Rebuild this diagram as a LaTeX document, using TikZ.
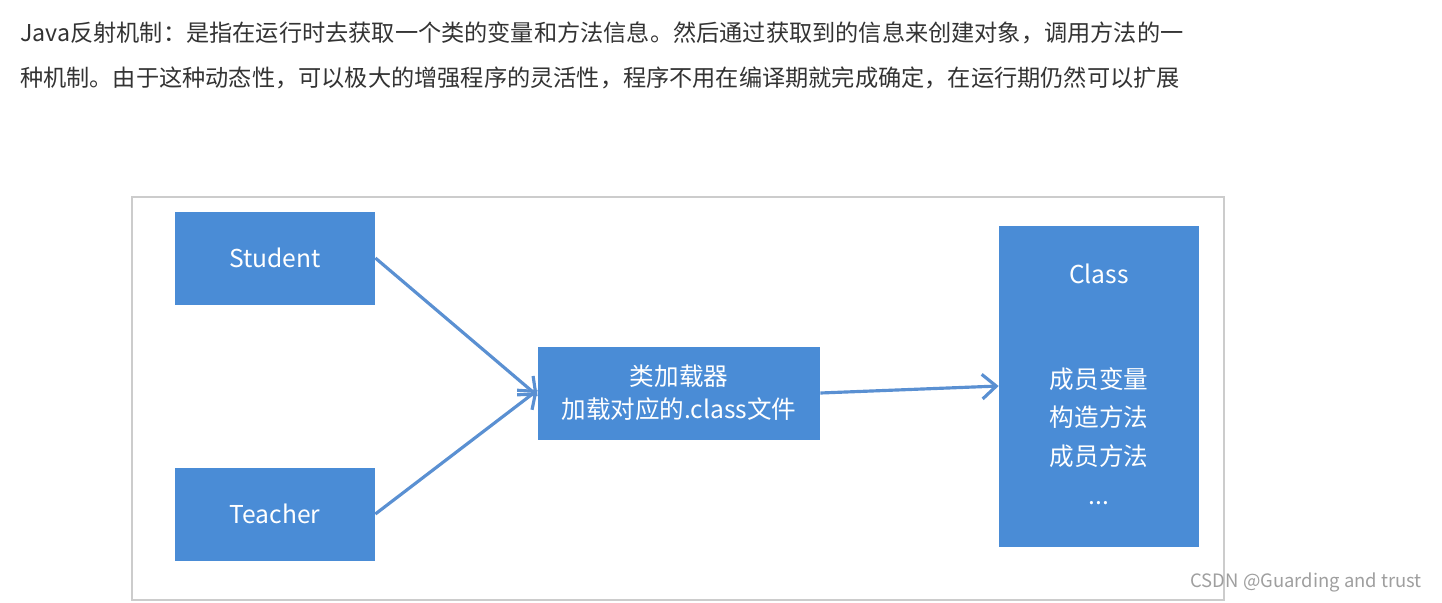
\documentclass[tikz,border=0pt]{standalone}
\usepackage{fontspec}
\setmainfont{Noto Sans CJK SC}
\usetikzlibrary{arrows.meta}
\definecolor{boxblue}{HTML}{4A8CD6}
\definecolor{arrowblue}{HTML}{5A90D2}
\definecolor{toptext}{HTML}{333333}
\begin{document}
\begin{tikzpicture}[x=0.02cm,y=-0.02cm,
    box/.style={fill=boxblue,text=white,font=\fontsize{14}{19}\selectfont,inner sep=0pt,align=center},
    link/.style={draw=arrowblue,line width=1.8pt,-{Straight Barb[length=8pt,width=14pt,line width=1.8pt]}}]
  \useasboundingbox (0,0) rectangle (1442,602);
  \fill[white] (0,0) rectangle (1442,602);
  % text above the figure
  \node[anchor=west,text=toptext,font=\fontsize{13.2}{16}\selectfont] (lineA) at (14,33)
    {Java反射机制：是指在运行时去获取一个类的变量和方法信息。然后通过获取到的信息来创建对象，调用方法的一};
  \node[anchor=west,text=toptext,font=\fontsize{13.2}{16}\selectfont] (lineB) at (14,78)
    {种机制。由于这种动态性，可以极大的增强程序的灵活性，程序不用在编译期就完成确定，在运行期仍然可以扩展};
  % frame
  \draw[gray!40,line width=0.8pt] (132,197) rectangle (1224,600);
  % boxes
  \node[box,minimum width=200*0.02cm,minimum height=93*0.02cm] (student) at (275,258) {Student};
  \node[box,minimum width=200*0.02cm,minimum height=93*0.02cm] (teacher) at (275,514) {Teacher};
  \node[box,minimum width=282*0.02cm,minimum height=93*0.02cm] (loader) at (679,393) {类加载器\\加载对应的.class文件};
  \node[box,minimum width=200*0.02cm,minimum height=321*0.02cm] (class) at (1099,386) {};
  \node[text=white,font=\fontsize{14}{19}\selectfont] (classname) at (1099,274) {Class};
  \node[text=white,font=\fontsize{14}{22}\selectfont,align=center] (members) at (1099,436) {成员变量\\构造方法\\成员方法\\...};
  % connectors
  \draw[link] (student.east) -- ([yshift=-3*0.02cm]loader.west);
  \draw[link] (teacher.east) -- ([yshift=3*0.02cm]loader.west);
  \draw[link] (loader.east) -- (class.west);
  % watermark
  \node[anchor=east,text=gray!75,font=\fontsize{10.5}{12}\selectfont] (mark) at (1428,582) {CSDN @Guarding and trust};
\end{tikzpicture}
\end{document}
